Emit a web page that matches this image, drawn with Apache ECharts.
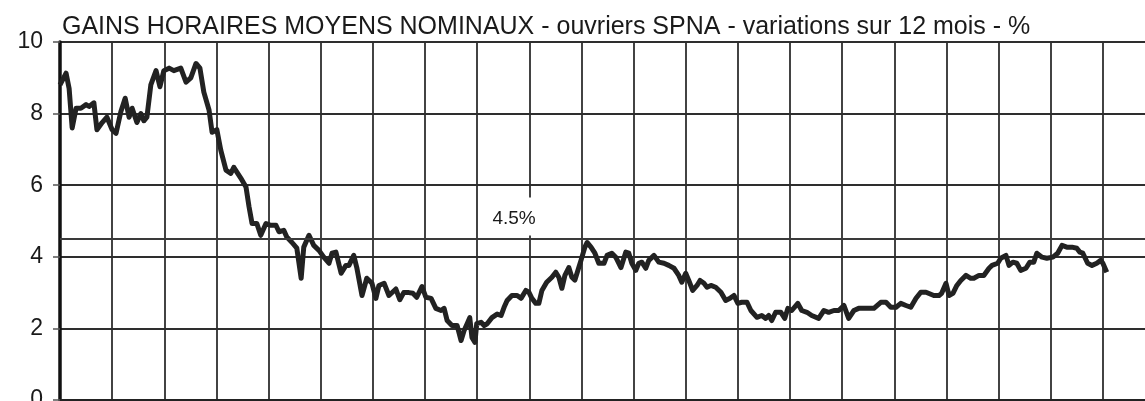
<!DOCTYPE html>
<html>
<head>
<meta charset="utf-8">
<script src="https://cdn.jsdelivr.net/npm/echarts@6/dist/echarts.min.js"></script>
<style>
  html, body { margin: 0; padding: 0; background: #fff; }
  #gains { width: 1145px; height: 401px; }
</style>
</head>
<body>
<div id="gains"></div>
<script>
  // mois écoulés depuis le début de la série (une ligne verticale = 12 mois)
  const months = [
    0, 1.4, 2.1, 2.8, 3.7, 4.8, 6.0, 6.7, 7.8, 8.5, 9.7, 10.8, 12.0, 12.9, 14.0, 15.0, 15.9, 16.6, 17.7, 18.6,
    19.3, 20.0, 20.9, 22.1, 23.0, 23.9, 25.1, 26.2, 27.8, 29.0, 30.1, 31.3, 32.2, 33.1, 34.3, 35.0, 36.1, 37.0, 38.2, 39.3,
    40.0, 41.6, 42.8, 43.5, 44.2, 45.3, 46.2, 47.4, 48.5, 49.7, 50.4, 51.5, 52.2, 53.4, 54.5, 55.5, 56.1, 57.3, 58.4, 59.6,
    60.7, 61.9, 62.6, 63.5, 64.7, 65.8, 66.5, 67.6, 68.3, 69.5, 70.6, 71.8, 72.7, 73.4, 74.6, 75.7, 77.3, 78.2, 79.1, 80.3,
    81.2, 82.1, 83.3, 84.2, 85.4, 86.5, 87.7, 88.4, 89.1, 90.2, 91.4, 92.3, 93.0, 93.7, 94.3, 94.8, 95.5, 95.9, 96.9, 97.6,
    98.3, 99.4, 100.6, 101.5, 102.2, 102.9, 104.0, 105.2, 106.1, 107.2, 107.9, 108.6, 109.5, 110.2, 110.9, 112.0, 113.2, 114.1, 114.8, 115.5,
    116.2, 117.1, 117.8, 118.5, 119.9, 120.8, 121.3, 122.2, 123.1, 124.0, 125.2, 125.9, 127.0, 127.9, 129.1, 130.2, 130.9, 131.6, 132.5, 133.2,
    133.9, 134.8, 135.5, 136.7, 137.8, 139.0, 140.1, 141.3, 142.4, 143.1, 144.0, 144.7, 145.6, 146.6, 147.3, 148.2, 148.9, 149.8, 150.9, 152.1,
    153.2, 154.2, 155.1, 156.0, 156.9, 158.1, 159.0, 160.4, 161.5, 162.4, 163.1, 163.8, 164.7, 165.9, 166.8, 167.5, 168.4, 169.8, 170.7, 171.9,
    173.0, 174.6, 175.8, 176.9, 178.1, 179.2, 180.4, 181.5, 182.7, 183.8, 185.5, 187.3, 188.9, 190.1, 191.2, 192.4, 193.5, 194.7, 195.8, 197.0,
    198.1, 199.3, 201.1, 202.3, 202.9, 203.9, 204.6, 205.5, 206.4, 207.3, 208.5, 209.6, 210.3, 211.5, 212.6, 213.8, 214.5, 215.8, 216.5, 217.7,
    218.4, 219.3, 220.2, 221.1, 222.3, 223.2, 224.1, 224.8, 226.0, 227.1, 228.5, 229.6, 230.6, 231.7, 232.9, 234.0, 234.7, 235.4, 236.5, 237.5,
    238.6, 239.5, 240.0, 240.9
  ];
  const gains = [
    8.8, 9.13, 8.7, 7.6, 8.15, 8.15, 8.25, 8.2, 8.3, 7.55, 7.75, 7.9, 7.55, 7.45, 8.05, 8.43, 7.9, 8.15, 7.75, 8.0,
    7.8, 7.9, 8.8, 9.2, 8.75, 9.2, 9.27, 9.2, 9.27, 8.88, 9.0, 9.4, 9.27, 8.6, 8.1, 7.48, 7.55, 6.98, 6.42, 6.33,
    6.5, 6.2, 5.95, 5.4, 4.93, 4.93, 4.6, 4.93, 4.88, 4.88, 4.7, 4.74, 4.55, 4.4, 4.24, 3.4, 4.27, 4.6, 4.32, 4.18,
    3.99, 3.82, 4.1, 4.13, 3.54, 3.76, 3.76, 4.04, 3.7, 2.92, 3.4, 3.26, 2.84, 3.2, 3.26, 2.92, 3.1, 2.8, 3.0, 3.0,
    2.98, 2.87, 3.17, 2.87, 2.84, 2.56, 2.5, 2.56, 2.22, 2.08, 2.08, 1.66, 1.94, 2.13, 2.3, 1.75, 1.61, 2.13, 2.17, 2.08,
    2.13, 2.3, 2.4, 2.36, 2.59, 2.78, 2.92, 2.92, 2.84, 3.06, 3.01, 2.84, 2.7, 2.7, 3.06, 3.29, 3.43, 3.57, 3.43, 3.12,
    3.48, 3.7, 3.43, 3.35, 3.9, 4.27, 4.4, 4.27, 4.1, 3.82, 3.82, 4.04, 4.1, 3.99, 3.7, 4.13, 4.1, 3.82, 3.62, 3.82,
    3.85, 3.68, 3.9, 4.04, 3.85, 3.82, 3.76, 3.68, 3.48, 3.29, 3.54, 3.34, 3.06, 3.2, 3.34, 3.26, 3.15, 3.2, 3.15, 3.01,
    2.78, 2.84, 2.92, 2.7, 2.73, 2.73, 2.5, 2.31, 2.36, 2.28, 2.36, 2.22, 2.45, 2.45, 2.28, 2.56, 2.5, 2.7, 2.5, 2.45,
    2.36, 2.28, 2.5, 2.45, 2.5, 2.5, 2.64, 2.28, 2.5, 2.56, 2.56, 2.56, 2.73, 2.73, 2.59, 2.59, 2.7, 2.64, 2.59, 2.84,
    3.01, 3.01, 2.92, 2.92, 2.98, 3.26, 2.92, 2.98, 3.2, 3.34, 3.48, 3.4, 3.4, 3.48, 3.48, 3.68, 3.76, 3.82, 3.96, 4.04,
    3.76, 3.85, 3.82, 3.62, 3.68, 3.85, 3.85, 4.1, 3.99, 3.96, 3.99, 4.1, 4.32, 4.27, 4.27, 4.24, 4.13, 4.1, 3.82, 3.76,
    3.82, 3.9, 3.82, 3.57
  ];
  const yTicks = [0, 2, 4, 6, 8, 10];
  const refLevel = 4.5;
  const refLabel = '4.5%';
  const refLabelMonth = 104.5;

  let myChart = echarts.init(document.getElementById('gains'));
  myChart.setOption({
    backgroundColor: '#fff',
    animation: false,
    title: {
      text: 'GAINS HORAIRES MOYENS NOMINAUX - ouvriers SPNA - variations sur 12 mois - %',
      left: 62,
      top: 15,
      padding: 0,
      textStyle: {
        fontFamily: 'Liberation Sans, Arial, sans-serif',
        fontSize: 25,
        fontWeight: 'normal',
        color: '#1a1a1a'
      }
    },
    grid: {
      left: 60,
      top: 42,
      width: 1095,
      height: 358,
      outerBoundsMode: 'none'
    },
    xAxis: {
      type: 'value',
      min: 0,
      max: 252,
      interval: 12,
      axisLine: { show: true, lineStyle: { color: '#222', width: 2 } },
      axisTick: { show: false },
      axisLabel: { show: false },
      splitLine: { show: true, lineStyle: { color: '#2e2e2e', width: 1.8 } }
    },
    yAxis: {
      type: 'value',
      min: yTicks[0],
      max: yTicks[yTicks.length - 1],
      interval: 2,
      axisLine: { show: true, lineStyle: { color: '#111', width: 3.5 } },
      axisTick: { show: true, length: 7, lineStyle: { color: '#555', width: 1.5 } },
      axisLabel: {
        margin: 17,
        fontFamily: 'Liberation Sans, Arial, sans-serif',
        fontSize: 23,
        color: '#1a1a1a'
      },
      splitLine: { show: true, lineStyle: { color: '#2e2e2e', width: 1.8 } }
    },
    series: [{
      type: 'line',
      symbol: 'none',
      data: months.map((m, i) => [m, gains[i]]),
      lineStyle: { color: '#222', width: 5, join: 'round' },
      markLine: {
        silent: true,
        symbol: ['none', 'none'],
        label: { show: false },
        lineStyle: { type: 'solid', color: '#3a3a3a', width: 1.8 },
        data: [{ yAxis: refLevel }]
      },
      markPoint: {
        silent: true,
        symbol: 'rect',
        symbolSize: 1,
        itemStyle: { color: 'rgba(0,0,0,0)' },
        label: {
          show: true,
          position: 'top',
          distance: 3,
          formatter: refLabel,
          fontFamily: 'Liberation Sans, Arial, sans-serif',
          fontSize: 19,
          color: '#1a1a1a',
          backgroundColor: '#fff',
          padding: [12, 3, 7, 3]
        },
        data: [{ coord: [refLabelMonth, refLevel] }]
      }
    }]
  });

  window.addEventListener('resize', () => {
    myChart.resize();
  });
</script>
</body>
</html>
